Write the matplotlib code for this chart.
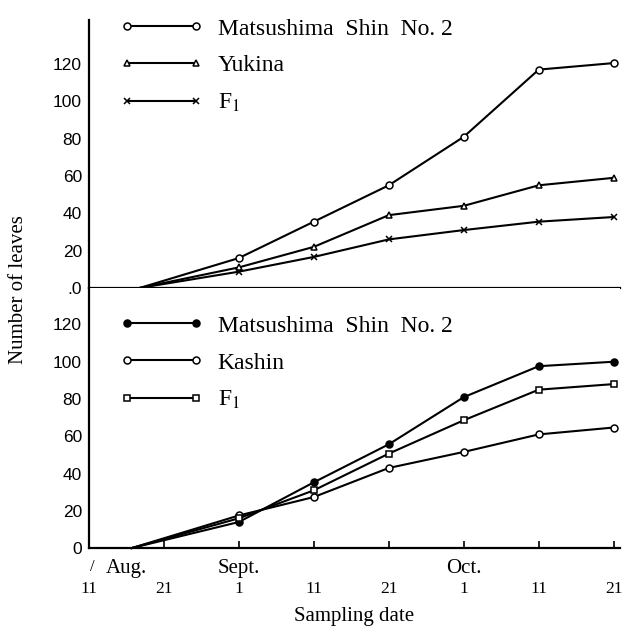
import matplotlib
matplotlib.use("Agg")
import matplotlib.pyplot as plt
from matplotlib.lines import Line2D
from matplotlib.transforms import blended_transform_factory

# sampling dates, drawn at equal spacing (one step = 10 days)
day_labels = ["11", "21", "1", "11", "21", "1", "11", "21"]
month_labels = ["Aug.", "Sept.", "Oct."]
month_pos = [0.5, 2, 5]
sample_pos = [2, 3, 4, 5, 6, 7]

# upper panel: start of growth then sampled values
upper_start = 0.68
upper_names = ["Matsushima  Shin  No. 2", "Yukina", r"F$_{\mathrm{1}}$"]
upper_matsu = [16, 35.5, 55, 81, 117, 120.5]
upper_yukina = [11, 22, 39, 44, 55, 59]
upper_f1 = [8.7, 16.6, 26, 31, 35.5, 38]

# lower panel
lower_start = 0.57
lower_names = ["Matsushima  Shin  No. 2", "Kashin", r"F$_{\mathrm{1}}$"]
lower_matsu = [14, 35.3, 55.7, 81, 97.6, 100]
lower_kashin = [17.5, 27.4, 43, 51.6, 61, 64.7]
lower_f1 = [16, 31, 50.7, 68.6, 85, 88]

yticks = [0, 20, 40, 60, 80, 100, 120]

plt.rcParams["font.family"] = "Liberation Serif"
plt.rcParams["mathtext.fontset"] = "stix"

fig = plt.figure(figsize=(6.26, 6.30), dpi=100)
ax1 = fig.add_axes([0.142, 0.543, 0.848, 0.425])
ax2 = fig.add_axes([0.142, 0.130, 0.848, 0.413])

lw = 1.5
ms = 5


def draw(ax, start, series, styles):
    xs = [start] + sample_pos
    for vals, (mk, fill) in zip(series, styles):
        ax.plot(xs, [0] + vals, color="black", lw=lw, marker=mk, ms=ms,
                markerfacecolor=fill, markeredgecolor="black", markeredgewidth=1.1,
                markevery=list(range(1, len(xs))), clip_on=False)


upper_styles = [("o", "white"), ("^", "white"), ("x", "white")]
lower_styles = [("o", "black"), ("o", "white"), ("s", "white")]
draw(ax1, upper_start, [upper_matsu, upper_yukina, upper_f1], upper_styles)
draw(ax2, lower_start, [lower_matsu, lower_kashin, lower_f1], lower_styles)

for ax, top in [(ax1, 143.5), (ax2, 139.6)]:
    ax.set_xlim(0, 7.08)
    ax.set_ylim(0, top)
    for s in ["top", "right"]:
        ax.spines[s].set_visible(False)
    for s in ["left", "bottom"]:
        ax.spines[s].set_linewidth(1.6)
    ax.set_yticks(yticks)
    ax.tick_params(axis="y", length=0, pad=5, labelsize=12.5)
    for t in ax.get_yticklabels():
        t.set_fontfamily("Liberation Sans")

ax1.set_yticklabels([".0"] + [str(v) for v in yticks[1:]])
ax1.set_xticks([])
ax2.set_xticks(range(len(day_labels)))
ax2.set_xticklabels(day_labels, fontsize=12.5)
ax2.tick_params(axis="x", direction="in", length=5, width=1.2, pad=24)

trans = blended_transform_factory(ax2.transData, ax2.transAxes)
for name, pos in zip(month_labels, month_pos):
    ax2.text(pos, -0.04, name, transform=trans, ha="center", va="top", fontsize=15)
ax2.text(0.05, -0.04, "/", transform=trans, ha="center", va="top", fontsize=12)

ax2.set_xlabel("Sampling date", fontsize=15, labelpad=7)
fig.text(0.030, 0.54, "Number of leaves", rotation=90, ha="center", va="center", fontsize=15)


def legend(ax, names, styles, y):
    handles = [Line2D([], [], color="black", lw=lw, marker=mk, ms=ms, markerfacecolor=fill,
                      markeredgecolor="black", markeredgewidth=1.1)
               for mk, fill in styles]
    ax.legend(handles, names, loc="upper left", bbox_to_anchor=(0.058, y), frameon=False,
              numpoints=2, handlelength=3.55, handletextpad=0.6, labelspacing=0.65,
              borderpad=0, borderaxespad=0, fontsize=17)


legend(ax1, upper_names, upper_styles, 1.008)
legend(ax2, lower_names, lower_styles, 0.895)

fig.savefig("out.png", dpi=100)
